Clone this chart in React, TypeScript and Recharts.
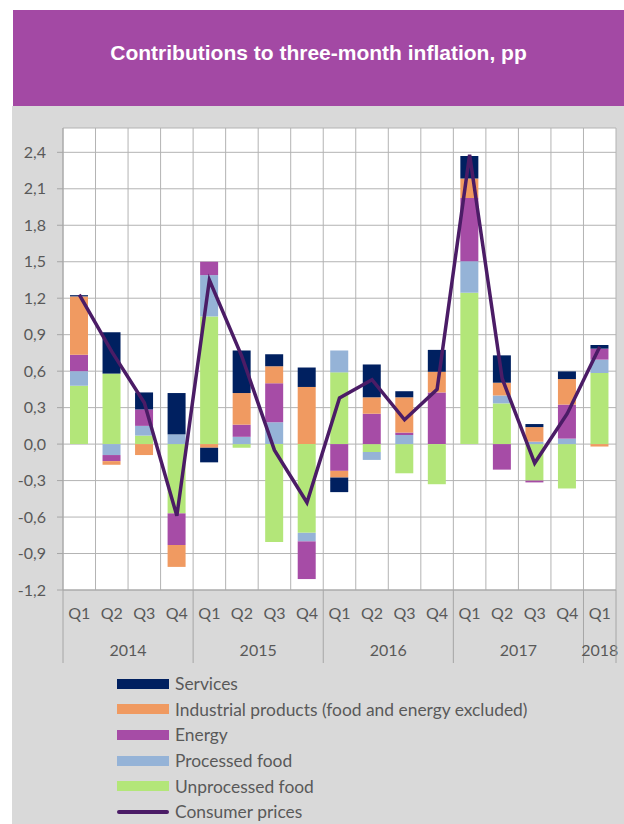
import React from 'react';
import { ComposedChart, Bar, Line, XAxis, YAxis, CartesianGrid } from 'recharts';

const quarters = ['Q1', 'Q2', 'Q3', 'Q4', 'Q1', 'Q2', 'Q3', 'Q4', 'Q1', 'Q2', 'Q3', 'Q4', 'Q1', 'Q2', 'Q3', 'Q4', 'Q1'];
const years = ['2014', '2014', '2014', '2014', '2015', '2015', '2015', '2015', '2016', '2016', '2016', '2016', '2017', '2017', '2017', '2017', '2018'];

const unprocessedFood = [0.48, 0.58, 0.07, -0.57, 1.05, -0.03, -0.805, -0.73, 0.59, -0.065, -0.24, -0.33, 1.245, 0.335, -0.3, -0.365, 0.585];
const processedFood = [0.12, -0.09, 0.08, 0.08, 0.34, 0.06, 0.18, -0.07, 0.18, -0.065, 0.075, 0, 0.26, 0.065, 0.02, 0.045, 0.11];
const energy = [0.135, -0.05, 0.135, -0.26, 0.11, 0.1, 0.32, -0.31, -0.22, 0.25, 0.02, 0.425, 0.52, -0.21, -0.015, 0.28, 0.09];
const industrial = [0.48, -0.03, -0.09, -0.18, -0.03, 0.26, 0.14, 0.47, -0.055, 0.135, 0.29, 0.17, 0.16, 0.105, 0.12, 0.21, -0.02];
const services = [0.01, 0.34, 0.14, 0.34, -0.12, 0.35, 0.1, 0.16, -0.12, 0.27, 0.05, 0.18, 0.185, 0.225, 0.025, 0.063, 0.03];
const consumerPrices = [1.23, 0.76, 0.34, -0.59, 1.35, 0.72, -0.05, -0.48, 0.38, 0.53, 0.2, 0.45, 2.38, 0.54, -0.156, 0.25, 0.8];

const yTicks = [-1.2, -0.9, -0.6, -0.3, 0, 0.3, 0.6, 0.9, 1.2, 1.5, 1.8, 2.1, 2.4];

const barSeries = [
  { key: 'unprocessed', name: 'Unprocessed food', color: '#B3E679', values: unprocessedFood },
  { key: 'processed', name: 'Processed food', color: '#95B3D7', values: processedFood },
  { key: 'energy', name: 'Energy', color: '#A64CA6', values: energy },
  { key: 'industrial', name: 'Industrial products (food and energy excluded)', color: '#F09A61', values: industrial },
  { key: 'services', name: 'Services', color: '#002060', values: services },
];
const lineColor = '#4B1C66';

const data = quarters.map((q, i) => {
  const row: any = { q, year: years[i], cpi: consumerPrices[i] };
  barSeries.forEach(s => { row[s.key] = s.values[i]; });
  return row;
});

const W = 611;
const H = 560;
const M = { top: 22, right: 8, left: 0, bottom: 0 };
const Y_W = 50;
const band = (W - M.left - M.right - Y_W) / quarters.length;
const textColor = '#595959';
const axisGray = '#a6a6a6';
const font = 'Lato, sans-serif';

function QuarterTick(props: any) {
  const { x, y, payload } = props;
  const i = payload.index;
  const yr = years[i];
  const isStart = i === 0 || years[i - 1] !== yr;
  const isLast = i === quarters.length - 1;
  let count = 0;
  years.forEach(v => { if (v === yr) count++; });
  return (
    <g>
      <text x={x} y={y + 29} textAnchor="middle" fill={textColor} fontSize={16} fontFamily={font}>{quarters[i]}</text>
      {isStart && (
        <>
          <line x1={x - band / 2} x2={x - band / 2} y1={y} y2={y + 73} stroke={axisGray} strokeWidth={1} />
          <text x={x + ((count - 1) * band) / 2} y={y + 66} textAnchor="middle" fill={textColor} fontSize={16} fontFamily={font}>{yr}</text>
        </>
      )}
      {isLast && <line x1={x + band / 2} x2={x + band / 2} y1={y} y2={y + 73} stroke={axisGray} strokeWidth={1} />}
    </g>
  );
}

const legendItems = [
  ...barSeries.slice().reverse().map(s => ({ name: s.name, color: s.color, line: false })),
  { name: 'Consumer prices', color: lineColor, line: true },
];

export default function App() {
  return (
    <div style={{ position: 'absolute', left: 0, top: 0, width: 624, height: 824, background: '#fff', overflow: 'hidden' }}>
      <div style={{ position: 'absolute', left: 13, top: 10, width: 611, height: 96, background: '#A349A4' }}>
        <div style={{ position: 'absolute', left: 0, top: 30.5, width: 611, textAlign: 'center', color: '#fff', fontFamily: '"Liberation Sans", Arial, sans-serif', fontWeight: 'bold', fontSize: 21, lineHeight: '24px' }}>
          Contributions to three-month inflation, pp
        </div>
      </div>
      <div style={{ position: 'absolute', left: 12, top: 106, width: 612, height: 718, background: '#d9d9d9' }} />
      <div style={{ position: 'absolute', left: 13, top: 106 }}>
        <ComposedChart width={W} height={H} data={data} margin={M} stackOffset="sign">
          <CartesianGrid
            fill="#fff"
            stroke="#b3b3b3"
            strokeWidth={1}
            verticalCoordinatesGenerator={({ offset }: any) =>
              Array.from({ length: quarters.length + 1 }, (_, i) => offset.left + (i * offset.width) / quarters.length)
            }
          />
          <XAxis dataKey="q" interval={0} height={76} tickSize={0} tickMargin={0} tickLine={false} axisLine={{ stroke: axisGray }} tick={<QuarterTick />} />
          <YAxis
            type="number"
            domain={[-1.2, 2.6]}
            ticks={yTicks}
            width={Y_W}
            tickSize={6}
            tickMargin={11}
            interval={0}
            allowDataOverflow
            axisLine={{ stroke: axisGray }}
            tickLine={{ stroke: axisGray }}
            tick={{ fill: textColor, fontSize: 16, fontFamily: font }}
            tickFormatter={(v: number) => v.toFixed(1).replace('.', ',')}
          />
          {barSeries.map(s => (
            <Bar key={s.key} dataKey={s.key} name={s.name} stackId="a" fill={s.color} barSize={18} isAnimationActive={false} />
          ))}
          <Line type="linear" dataKey="cpi" name="Consumer prices" stroke={lineColor} strokeWidth={3.5} dot={false} isAnimationActive={false} />
        </ComposedChart>
      </div>
      <div style={{ position: 'absolute', left: 117, top: 671, fontFamily: font, fontSize: 17.4, color: textColor }}>
        {legendItems.map(item => (
          <div key={item.name} style={{ display: 'flex', alignItems: 'center', height: 25.6 }}>
            {item.line ? (
              <div style={{ width: 52, height: 4, borderRadius: 2, background: item.color }} />
            ) : (
              <div style={{ width: 52, height: 10, background: item.color }} />
            )}
            <span style={{ marginLeft: 6, whiteSpace: 'nowrap' }}>{item.name}</span>
          </div>
        ))}
      </div>
    </div>
  );
}
